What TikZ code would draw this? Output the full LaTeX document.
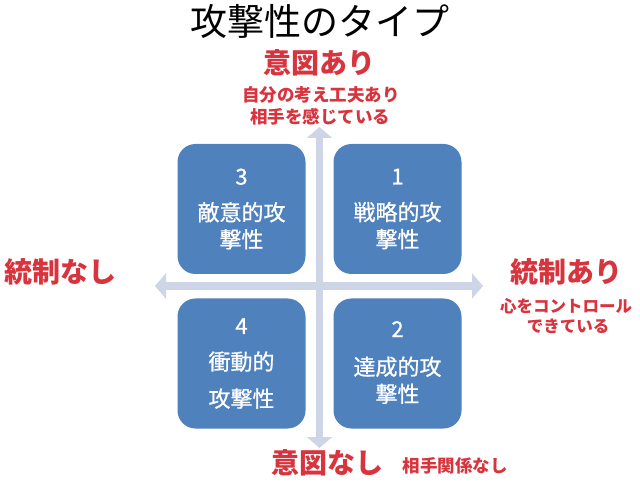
\documentclass[tikz,border=0pt]{standalone}
\usepackage{fontspec}
\setmainfont{Noto Sans CJK JP}
\newfontfamily\boxfont{Noto Sans CJK JP}[FakeBold=0.8]
\usetikzlibrary{arrows.meta}
\definecolor{boxblue}{HTML}{4F81BD}
\definecolor{axiscol}{HTML}{CDD5E7}
\definecolor{redtxt}{HTML}{D8343E}
\tikzset{
  quad/.style={draw=none, fill=boxblue, rounded corners=18pt, minimum width=128pt, minimum height=130pt, inner sep=0pt},
  quadtext/.style={text=white, align=center, inner sep=0pt, font=\boxfont\fontsize{22}{27}\selectfont},
  axis/.style={draw=axiscol, line width=7.5pt, {Triangle[width=25pt,length=11pt]}-{Triangle[width=25pt,length=11pt]}},
  bigred/.style={text=redtxt, inner sep=0pt, font=\fontsize{28}{30}\selectfont\bfseries},
  smallred/.style={text=redtxt, inner sep=0pt, font=\fontsize{16.5}{20}\selectfont\bfseries},
}
\begin{document}
\begin{tikzpicture}[x=1pt,y=-1pt]
\useasboundingbox[fill=white] (0,0) rectangle (640,486);
% title
\node[inner sep=0pt, font=\fontsize{37}{40}\selectfont] (title) at (320,21) {攻撃性のタイプ};
% axes
\coordinate (atop) at (319.5,127);
\coordinate (abot) at (319.5,448);
\coordinate (aleft) at (155,286);
\coordinate (aright) at (483,286);
\draw[axis] (aleft) -- (aright);
\draw[axis] (atop) -- (abot);
% quadrant boxes
\node[quad] (q3) at (241.5,209) {};
\node[quad] (q1) at (397.5,209) {};
\node[quad] (q4) at (241.5,363.5) {};
\node[quad] (q2) at (397.5,363.5) {};
\node[quadtext] (t3) at (q3) {3\\[9pt]敵意的攻\\撃性};
\node[quadtext] (t1) at (q1) {1\\[9pt]戦略的攻\\撃性};
\node[quadtext] (t4) at (q4) {4\\[9pt]衝動的\\[10pt]攻撃性};
\node[quadtext] (t2) at ([yshift=1pt]q2) {2\\[11pt]達成的攻\\撃性};
% labels
\node[bigred] (ito1) at (319,63) {意図あり};
\node[smallred, font=\fontsize{17.5}{20}\selectfont\bfseries] (sub1) at (321,95) {自分の考え工夫あり};
\node[smallred, font=\fontsize{17.5}{20}\selectfont\bfseries] (sub2) at (320,117) {相手を感じている};
\node[bigred] (tn) at (61,272) {統制なし};
\node[bigred] (ta) at (566,272) {統制あり};
\node[smallred] (sub3) at (566,306) {心をコントロール};
\node[smallred] (sub4) at (568,326) {できている};
\node[bigred] (ito0) at (327,463) {意図なし};
\node[smallred, font=\fontsize{17.5}{20}\selectfont\bfseries] (sub5) at (455,466) {相手関係なし};
\end{tikzpicture}
\end{document}
